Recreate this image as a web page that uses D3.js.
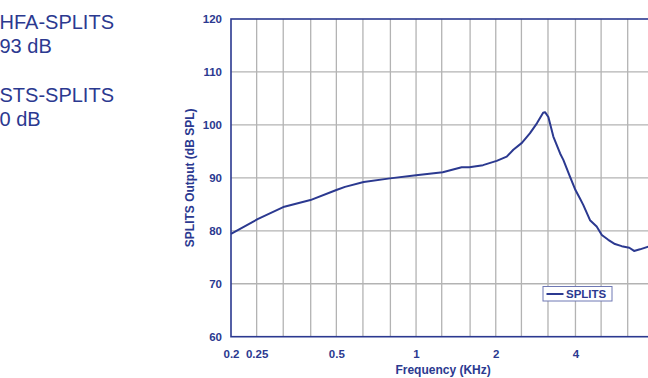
<!DOCTYPE html>
<html>
<head>
<meta charset="utf-8">
<script src="https://cdn.jsdelivr.net/npm/d3@7"></script>
<style>
  body { margin: 0; background: #fff; overflow: hidden; }
  text { font-family: Arial, "Liberation Sans", sans-serif; fill: #2b3990; }
  .tick text, .title { font-weight: bold; }
</style>
</head>
<body>
<div id="chart"></div>
<script>
// curve (frequency in KHz, output in dB SPL)
var freqs = [0.2, 0.252, 0.318, 0.399, 0.5, 0.539, 0.634, 0.797, 1.0, 1.261, 1.487, 1.589, 1.79, 2.016,
             2.2, 2.33, 2.51, 2.69, 2.86, 3.02, 3.07, 3.16, 3.30, 3.50, 3.60, 3.81, 4.0, 4.16, 4.28,
             4.54, 4.81, 5.03, 5.32, 5.64, 5.98, 6.39, 6.66, 7.01, 7.54, 8.0];
var splits = [79.4, 82.2, 84.55, 85.8, 87.7, 88.3, 89.2, 89.9, 90.5, 91.05, 92.0, 92.0, 92.4, 93.2,
              94.0, 95.3, 96.6, 98.4, 100.3, 102.3, 102.4, 101.5, 97.8, 94.6, 93.4, 90.3, 87.7, 86.1, 84.9,
              82.0, 80.8, 79.2, 78.3, 77.5, 77.1, 76.8, 76.2, 76.5, 77.0, 77.3];

var gridFreqs = [0.25, 0.315, 0.4, 0.5, 0.63, 0.8, 1, 1.25, 1.6, 2, 2.5, 3.15, 4, 5, 6.3];
var xTicks = [0.2, 0.25, 0.5, 1, 2, 4];
var xTickLabels = ["0.2", "0.25", "0.5", "1", "2", "4"];
var yTicks = [60, 70, 80, 90, 100, 110, 120];
var sideText = ["HFA-SPLITS", "93 dB", "STS-SPLITS", "0 dB"];

var w = 648,
    h = 378,
    m = [19, -7, 41.3, 231]; // top right bottom left (plot runs past the right edge)

var navy = "#2b3990";

var x = d3.scaleLog().base(2)
    .domain([0.2, 8])
    .range([m[3], m[3] + 79.7 * Math.log2(40)]);

var y = d3.scaleLinear()
    .domain([60, 120])
    .range([h - m[2], m[0]]);

var svg = d3.select("#chart").append("svg:svg")
    .attr("width", w)
    .attr("height", h);

// notes on the left
svg.append("svg:g").selectAll("text")
    .data(sideText)
  .enter().append("svg:text")
    .attr("x", -0.5)
    .attr("y", function(d, i) { return [29.3, 53.3, 101.7, 126][i]; })
    .style("font-size", "20px")
    .text(function(d) { return d; });

// grid
svg.append("svg:g").selectAll("line")
    .data(gridFreqs)
  .enter().append("svg:line")
    .attr("x1", function(d) { return x(d); })
    .attr("x2", function(d) { return x(d); })
    .attr("y1", y(60))
    .attr("y2", y(120))
    .attr("stroke", "#b3b3b3")
    .attr("stroke-width", 1.3);

svg.append("svg:g").selectAll("line")
    .data(yTicks.slice(1, -1))
  .enter().append("svg:line")
    .attr("x1", x(0.2))
    .attr("x2", x(8))
    .attr("y1", function(d) { return y(d); })
    .attr("y2", function(d) { return y(d); })
    .attr("stroke", "#b3b3b3")
    .attr("stroke-width", 1.3);

// frame
svg.append("svg:rect")
    .attr("x", x(0.2))
    .attr("y", y(120))
    .attr("width", x(8) - x(0.2))
    .attr("height", y(60) - y(120))
    .attr("fill", "none")
    .attr("stroke", navy)
    .attr("stroke-width", 1.6);

// y axis
var yAxis = svg.append("svg:g")
    .attr("transform", "translate(" + (m[3] - 9) + ",0)")
    .call(d3.axisLeft(y).tickValues(yTicks).tickSize(0).tickPadding(0));
yAxis.select(".domain").remove();
yAxis.selectAll("text").style("font-size", "11.5px").attr("fill", navy);

// x axis
var xAxis = svg.append("svg:g")
    .attr("transform", "translate(0," + (y(60) + 13) + ")")
    .call(d3.axisBottom(x).tickValues(xTicks)
      .tickFormat(function(d, i) { return xTickLabels[i]; })
      .tickSize(0).tickPadding(0));
xAxis.select(".domain").remove();
xAxis.selectAll("text").style("font-size", "11.5px").attr("fill", navy);

svg.append("svg:text")
    .attr("class", "title")
    .attr("x", (x(0.2) + x(8)) / 2)
    .attr("y", 374)
    .attr("text-anchor", "middle")
    .style("font-size", "12px")
    .text("Frequency (KHz)");

svg.append("svg:text")
    .attr("class", "title")
    .attr("text-anchor", "middle")
    .attr("transform", "translate(194," + (y(60) + y(120)) / 2 + ") rotate(-90)")
    .style("font-size", "12px")
    .text("SPLITS Output (dB SPL)");

// curve
var line = d3.line()
    .x(function(d) { return x(d[0]); })
    .y(function(d) { return y(d[1]); });

svg.append("svg:path")
    .datum(d3.zip(freqs, splits))
    .attr("d", line)
    .attr("fill", "none")
    .attr("stroke", navy)
    .attr("stroke-width", 2)
    .attr("stroke-linejoin", "round");

// legend
var legend = svg.append("svg:g")
    .attr("transform", "translate(543,286.5)");

legend.append("svg:rect")
    .attr("width", 69)
    .attr("height", 14.5)
    .attr("fill", "#fff")
    .attr("stroke", "#6f78b4")
    .attr("stroke-width", 1);

legend.append("svg:line")
    .attr("x1", 3.5).attr("x2", 20.5)
    .attr("y1", 7.5).attr("y2", 7.5)
    .attr("stroke", navy)
    .attr("stroke-width", 2);

legend.append("svg:text")
    .attr("class", "title")
    .attr("x", 23)
    .attr("y", 11.6)
    .style("font-size", "11.5px")
    .text("SPLITS");
</script>
</body>
</html>
